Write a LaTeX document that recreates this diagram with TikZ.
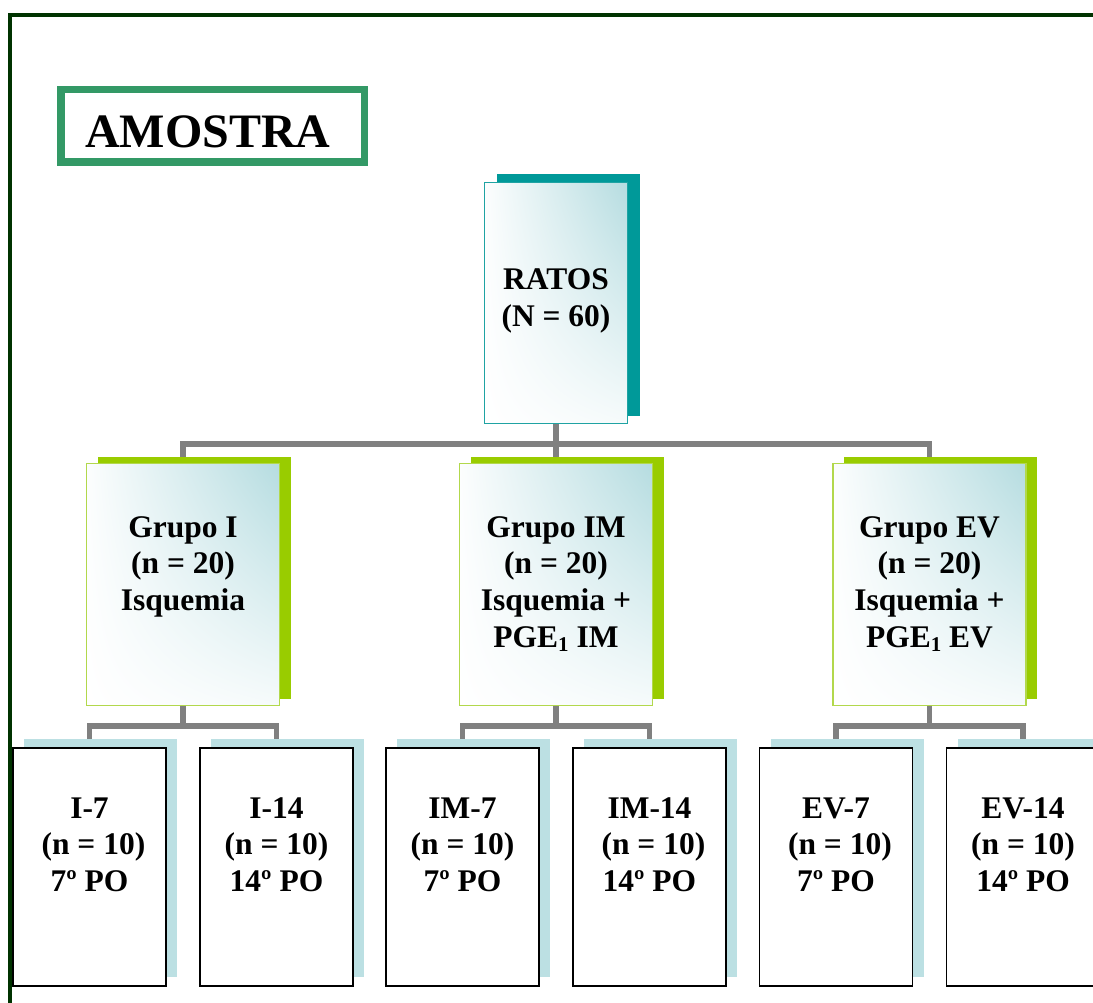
\documentclass[tikz,border=0pt]{standalone}
\usepackage{fontspec}
\setmainfont{Liberation Serif}
\usetikzlibrary{shadings,shadows}

\definecolor{framec}{HTML}{003300}
\definecolor{amoc}{HTML}{339966}
\definecolor{tealsh}{HTML}{009999}
\definecolor{tealbd}{HTML}{1FA3A3}
\definecolor{grnsh}{HTML}{99CC00}
\definecolor{grnbd}{HTML}{B2D84C}
\definecolor{bluesh}{HTML}{BCE0E3}
\definecolor{gradc}{HTML}{B5DCE0}
\definecolor{connc}{HTML}{808080}

\pgfdeclarelayer{bg}
\pgfsetlayers{bg,main}

\newcommand\mlines[1]{\begin{tabular}[t]{@{}c@{}}#1\end{tabular}}
\newcommand\subone{\raisebox{-4pt}{\fontsize{21}{21}\selectfont 1}}

\begin{document}
\begin{tikzpicture}[x=1pt,y=-1pt,
  txt/.style={font=\fontsize{31.5}{36.7}\selectfont\bfseries, inner sep=0pt, anchor=base},
  gradfill/.style={lower left=white, upper left=white!96!gradc, lower right=white!88!gradc, upper right=gradc},
  ratbox/.style={draw=tealbd, line width=1.6pt, minimum width=143pt, minimum height=241pt, inner sep=0pt,
     gradfill, general shadow={fill=tealsh, shadow xshift=12pt, shadow yshift=8pt}},
  grpbox/.style={draw=grnbd, line width=1.6pt, minimum width=193pt, minimum height=242pt, inner sep=0pt,
     gradfill, general shadow={fill=grnsh, shadow xshift=11pt, shadow yshift=7pt}},
  subbox/.style={draw=black, line width=1.8pt, fill=white, minimum width=153pt, minimum height=238pt, inner sep=0pt,
     general shadow={fill=bluesh, shadow xshift=11pt, shadow yshift=9pt}},
  conn/.style={draw=connc, line width=5.5pt}
]
\useasboundingbox (0,0) rectangle (1093,1003);
\clip (0,0) rectangle (1093,1003);

% outer frame
\draw[framec, line width=4pt] (1200,15.5) -- (10.3,15.5) -- (10.3,1100);

% title
\node[draw=amoc, line width=7.5pt, minimum width=303.5pt, minimum height=72.5pt, inner sep=0pt] (amobox) at (212.5,126) {};
\node[font=\fontsize{48}{52}\selectfont\bfseries, inner sep=0pt, anchor=base west] (amotxt) at (85,148) {AMOSTRA};

% root box
\node[ratbox] (ratos) at (556,303) {};

% group boxes
\node[grpbox] (gI) at (183,584.5) {};
\node[grpbox] (gIM) at (556,584.5) {};
\node[grpbox] (gEV) at (929.5,584.5) {};

% sub boxes
\node[subbox] (sI7) at (89.5,867) {};
\node[subbox] (sI14) at (276.5,867) {};
\node[subbox] (sIM7) at (462.5,867) {};
\node[subbox] (sIM14) at (649.5,867) {};
\node[subbox] (sEV7) at (836,867) {};
\node[subbox] (sEV14) at (1023,867) {};

% junction coordinates
\coordinate (j0) at (556,444);
\coordinate (jI) at (183,726);
\coordinate (jIM) at (556,726);
\coordinate (jEV) at (929.5,726);

% connectors (behind boxes)
\begin{pgfonlayer}{bg}
\draw[conn] (ratos.south) -- (j0);
\draw[conn] (gI.north) |- (j0) -| (gEV.north);
\draw[conn] (j0) -- (gIM.north);
\draw[conn] (gI.south) -- (jI);
\draw[conn] (sI7.north) |- (jI) -| (sI14.north);
\draw[conn] (gIM.south) -- (jIM);
\draw[conn] (sIM7.north) |- (jIM) -| (sIM14.north);
\draw[conn] (gEV.south) -- (jEV);
\draw[conn] (sEV7.north) |- (jEV) -| (sEV14.north);
\end{pgfonlayer}

% texts
\node[txt] (tR) at (556,290) {\mlines{RATOS\\(N = 60)}};
\node[txt] (tgI) at (183,537) {\mlines{Grupo I\\(n = 20)\\Isquemia}};
\node[txt] (tgIM) at (556,537) {\mlines{Grupo IM\\(n = 20)\\Isquemia +\\PGE\subone{} IM}};
\node[txt] (tgEV) at (929.5,537) {\mlines{Grupo EV\\(n = 20)\\Isquemia +\\PGE\subone{} EV}};

\node[txt] (tI7) at (89.5,818) {\mlines{I-7\\\ (n = 10)\\7º PO}};
\node[txt] (tI14) at (276.5,818) {\mlines{I-14\\(n = 10)\\14º PO}};
\node[txt] (tIM7) at (462.5,818) {\mlines{IM-7\\(n = 10)\\7º PO}};
\node[txt] (tIM14) at (649.5,818) {\mlines{IM-14\\\ (n = 10)\\14º PO}};
\node[txt] (tEV7) at (836,818) {\mlines{EV-7\\\ (n = 10)\\7º PO}};
\node[txt] (tEV14) at (1023,818) {\mlines{EV-14\\(n = 10)\\14º PO}};
\end{tikzpicture}
\end{document}
